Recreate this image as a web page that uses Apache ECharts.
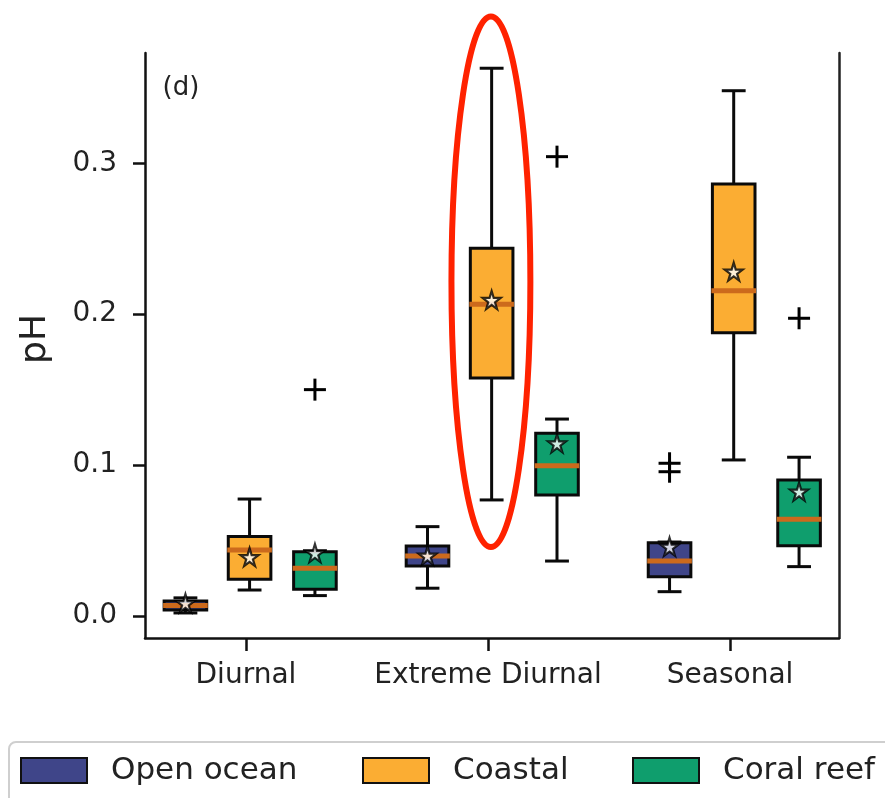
<!DOCTYPE html>
<html>
<head>
<meta charset="utf-8">
<script src="https://cdn.jsdelivr.net/npm/echarts@6/dist/echarts.min.js"></script>
<style>html,body{margin:0;padding:0;background:#fff;}#c{width:885px;height:798px;}</style>
</head>
<body>
<div id="c"></div>
<script>
// ---- data (pH) ----
const categories = ['Diurnal', 'Extreme Diurnal', 'Seasonal'];
const seriesNames = ['Open ocean', 'Coastal', 'Coral reef'];
// [lower whisker, Q1, median, Q3, upper whisker]
const openOcean = [[0.002, 0.004, 0.007, 0.010, 0.012], [0.0184, 0.0331, 0.0398, 0.0464, 0.0592], [0.0161, 0.026, 0.0364, 0.0486, 0.049]];
const coastal   = [[0.0172, 0.0243, 0.0437, 0.0526, 0.0775], [0.0769, 0.1577, 0.2066, 0.2437, 0.363], [0.1034, 0.1877, 0.2156, 0.2863, 0.3481]];
const coralReef = [[0.0135, 0.0177, 0.0316, 0.0426, 0.0432], [0.0364, 0.0802, 0.0996, 0.1211, 0.1305], [0.0327, 0.0466, 0.0641, 0.0901, 0.1052]];
const openMeans    = [0.0085, 0.040, 0.0459];
const coastalMeans = [0.039, 0.2094, 0.2282];
const coralMeans   = [0.0417, 0.1144, 0.0824];
const openOutliers    = [[], [], [0.1012, 0.0956]];
const coastalOutliers = [[], [], []];
const coralOutliers   = [[0.150], [0.3044], [0.1973]];
const yTicks = [0, 0.1, 0.2, 0.3];
// highlight ellipse (annotation) in data units: [centerX, centerY, radiusX, radiusY]
const highlightEllipse = [2.012, 0.2215, 0.163, 0.1758];

// ---- style ----
const colors = ['#3f4589', '#fbad33', '#0f9e6d'];
const offsets = [-0.25, 0.015, 0.285];
const boxWidth = 0.176;
const medianColor = '#cc6a1c';
const FONT = 'DejaVu Sans';

const allBoxes = [openOcean, coastal, coralReef];
const allMeans = [openMeans, coastalMeans, coralMeans];
const allOutliers = [openOutliers, coastalOutliers, coralOutliers];

function boxRenderer(offset, color) {
  return function (params, api) {
    const x = api.value(0) + offset;
    const lo = api.coord([x, api.value(1)]);
    const q1 = api.coord([x, api.value(2)]);
    const md = api.coord([x, api.value(3)]);
    const q3 = api.coord([x, api.value(4)]);
    const hi = api.coord([x, api.value(5)]);
    const hw = api.size([boxWidth, 0])[0] / 2;
    const cw = hw * 0.56;
    const cx = lo[0];
    const ls = { stroke: '#0a0a0a', lineWidth: 3 };
    return {
      type: 'group',
      children: [
        { type: 'line', shape: { x1: cx, y1: q1[1], x2: cx, y2: lo[1] }, style: ls },
        { type: 'line', shape: { x1: cx, y1: q3[1], x2: cx, y2: hi[1] }, style: ls },
        { type: 'line', shape: { x1: cx - cw, y1: lo[1], x2: cx + cw, y2: lo[1] }, style: ls },
        { type: 'line', shape: { x1: cx - cw, y1: hi[1], x2: cx + cw, y2: hi[1] }, style: ls },
        { type: 'rect', shape: { x: cx - hw, y: q3[1], width: 2 * hw, height: q1[1] - q3[1] },
          style: { fill: color, stroke: '#0a0a0a', lineWidth: 3 } },
        { type: 'line', shape: { x1: cx - hw - 1, y1: md[1], x2: cx + hw + 1, y2: md[1] },
          style: { stroke: medianColor, lineWidth: 5 } }
      ]
    };
  };
}

function plusRenderer(params, api) {
  const c = api.coord([api.value(0), api.value(1)]);
  const h = 11;
  const ls = { stroke: '#000', lineWidth: 3 };
  return {
    type: 'group',
    children: [
      { type: 'line', shape: { x1: c[0] - h, y1: c[1], x2: c[0] + h, y2: c[1] }, style: ls },
      { type: 'line', shape: { x1: c[0], y1: c[1] - h, x2: c[0], y2: c[1] + h }, style: ls }
    ]
  };
}

const series = [];
seriesNames.forEach(function (name, s) {
  series.push({
    name: name,
    type: 'custom',
    renderItem: boxRenderer(offsets[s], colors[s]),
    itemStyle: { color: colors[s] },
    encode: { x: 0, y: [1, 2, 3, 4, 5] },
    data: allBoxes[s].map(function (b, i) { return [i + 1].concat(b); }),
    z: 2
  });
});
seriesNames.forEach(function (name, s) {
  const pts = [];
  allOutliers[s].forEach(function (arr, i) { arr.forEach(function (v) { pts.push([i + 1 + offsets[s], v]); }); });
  series.push({
    name: name + ' outliers',
    type: 'custom',
    renderItem: plusRenderer,
    encode: { x: 0, y: 1 },
    data: pts,
    z: 3
  });
  series.push({
    name: name + ' mean',
    type: 'scatter',
    symbol: 'path://M50,0L61,35L98,35L68,57L79,91L50,70L21,91L32,57L2,35L39,35Z',
    symbolSize: 18,
    itemStyle: { color: '#ffffff', borderColor: '#000', borderWidth: 2.2 },
    data: allMeans[s].map(function (v, i) { return [i + 1 + offsets[s], v]; }),
    z: 4
  });
});
series.push({
  name: 'highlight',
  type: 'custom',
  clip: false,
  silent: true,
  renderItem: function (params, api) {
    const c = api.coord([api.value(0), api.value(1)]);
    const r = api.size([api.value(2), api.value(3)]);
    return { type: 'ellipse', shape: { cx: c[0], cy: c[1], rx: r[0], ry: r[1] },
      style: { fill: 'none', stroke: '#ff2200', lineWidth: 6 } };
  },
  data: [highlightEllipse],
  z: 10
});

const legendLefts = [20, 362, 632];
const legends = seriesNames.map(function (name, s) {
  return {
    data: [{ name: name, icon: 'rect', itemStyle: { color: colors[s], borderColor: '#111', borderWidth: 2 } }],
    left: legendLefts[s], top: 755, padding: 0,
    itemWidth: 66, itemHeight: 25, selectedMode: false,
    textStyle: { fontFamily: FONT, fontSize: 31, color: '#222', padding: [0, 0, 0, 19] }
  };
});

const chart = echarts.init(document.getElementById('c'), null, { renderer: 'canvas' });
chart.setOption({
  animation: false,
  backgroundColor: '#fff',
  grid: { left: 145, right: 46, top: 53, bottom: 160 },
  legend: legends,
  xAxis: {
    type: 'value', min: 0.583, max: 3.45,
    splitLine: { show: false },
    axisLine: { show: true, onZero: false, lineStyle: { color: '#111', width: 2.5 } },
    axisTick: { show: true, length: 13, lineStyle: { color: '#111', width: 2.5 }, customValues: [1, 2, 3] },
    axisLabel: {
      customValues: [1, 2, 3], margin: 24,
      formatter: function (v) { return categories[Math.round(v) - 1] || ''; },
      fontFamily: FONT, fontSize: 28, color: '#222'
    }
  },
  yAxis: [{
    type: 'value', min: -0.0146, max: 0.3731,
    splitLine: { show: false },
    axisLine: { show: true, onZero: false, lineStyle: { color: '#111', width: 2.5 } },
    axisTick: { show: true, length: 12, lineStyle: { color: '#111', width: 2.5 }, customValues: yTicks },
    axisLabel: {
      customValues: yTicks, margin: 28,
      formatter: function (v) { return v.toFixed(1); },
      fontFamily: FONT, fontSize: 28, color: '#222'
    }
  }, {
    type: 'value', position: 'right', min: -0.0146, max: 0.3731,
    splitLine: { show: false },
    axisLine: { show: true, onZero: false, lineStyle: { color: '#222', width: 2.5 } },
    axisTick: { show: false }, axisLabel: { show: false }
  }],
  graphic: [
    { type: 'text', x: 36, y: 339, rotation: Math.PI / 2,
      style: { text: 'pH', font: '36px "DejaVu Sans"', fill: '#222', align: 'center', verticalAlign: 'middle' } },
    { type: 'text', x: 181, y: 88,
      style: { text: '(d)', font: '26px "DejaVu Sans"', fill: '#222', align: 'center', verticalAlign: 'middle' } },
    { type: 'rect', shape: { x: 9, y: 742, width: 900, height: 120, r: 7 }, z: -1,
      style: { fill: '#fff', stroke: '#cfcfcf', lineWidth: 2 } }
  ],
  series: series
});
</script>
</body>
</html>
